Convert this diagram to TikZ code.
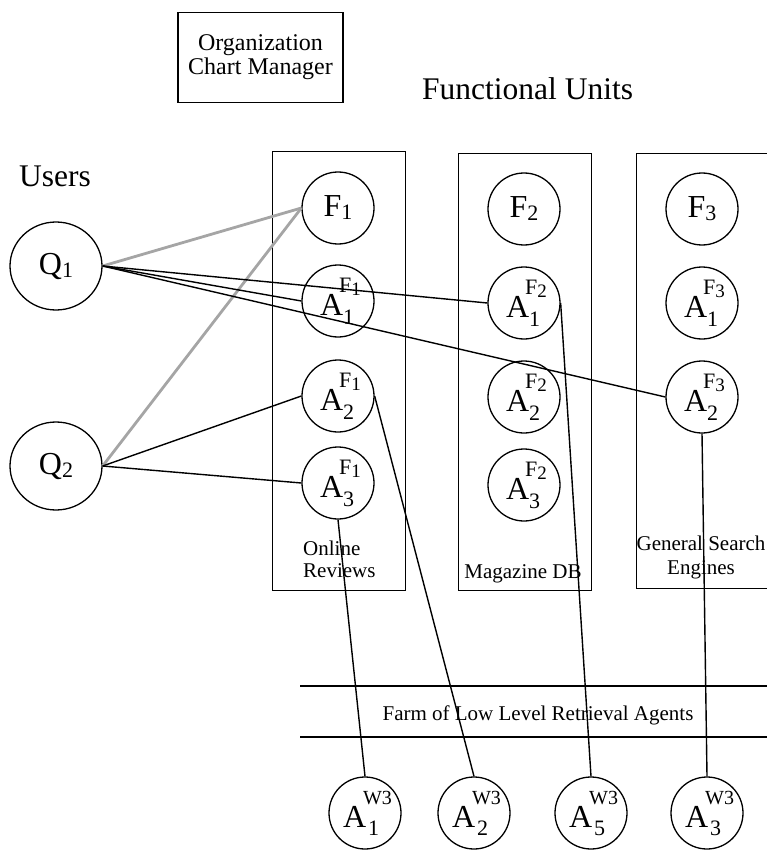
\documentclass[tikz,border=0pt]{standalone}
\usepackage{fontspec}
\setmainfont{Liberation Serif}
\usetikzlibrary{shapes.geometric}
\definecolor{gline}{RGB}{165,165,165}
\newcommand{\fs}[1]{\fontsize{#1}{#1}\selectfont}
\newcommand{\fsl}[2]{\fontsize{#1}{#2}\selectfont}
\newcommand{\FLab}[1]{F\raisebox{-3pt}{\fs{22}#1}}
\newcommand{\QLab}[1]{Q\raisebox{-3pt}{\fs{22}#1}}
\newcommand{\AFLab}[2]{\makebox[36pt][l]{A\rlap{\kern-4pt\raisebox{23pt}{\fs{22}F\raisebox{-3pt}{\fs{19}#1}}}\raisebox{-9pt}{\fs{22}#2}}}
\newcommand{\AWLab}[1]{\makebox[44pt][l]{A\rlap{\kern-3pt\raisebox{23pt}{\fs{20}W3}}\kern2pt\raisebox{-8pt}{\fs{22}#1}}}
\tikzset{
  unit/.style={circle, draw, line width=1.3pt, minimum size=72pt, inner sep=0pt, font=\fs{32}},
  user/.style={ellipse, draw, line width=1.3pt, minimum width=92pt, minimum height=88pt, inner sep=0pt, font=\fs{32}},
  fubox/.style={draw, line width=1.4pt, anchor=north west, inner sep=0pt},
  link/.style={line width=1.4pt},
  glink/.style={line width=2.8pt, draw=gline},
  lbl/.style={font=\fs{21}, inner sep=0pt},
  title/.style={font=\fs{31.5}, inner sep=0pt}
}
\begin{document}
\begin{tikzpicture}[x=1pt,y=-1pt]
\clip (0,0) rectangle (767,850);
% organization chart manager
\node[draw, line width=1.4pt, minimum width=165pt, minimum height=90pt, inner sep=0pt,
      align=center, font=\fsl{24}{24}] (ocm) at (260.5,57.5) {Organization\\Chart Manager};
\node[title, anchor=base west] (fu) at (422,100) {Functional Units};
\node[title, anchor=base west] (users) at (19,187) {Users};
% functional unit boxes
\node[fubox, minimum width=133pt, minimum height=439pt] (box1) at (272,151) {};
\node[fubox, minimum width=133pt, minimum height=437pt] (box2) at (458,153) {};
\node[fubox, minimum width=160pt, minimum height=435pt] (box3) at (636,153) {};
\node[lbl, anchor=north west, align=left, font=\fsl{21}{22}] (lab1) at (303,541) {Online\\Reviews};
\node[lbl, anchor=base] (lab2) at (523,578) {Magazine DB};
\node[lbl, anchor=north, align=center, font=\fsl{21}{24}] (lab3) at (701,536) {General Search\\Engines};
% users
\node[user] (q1) at (56,266) {\QLab{1}};
\node[user] (q2) at (56,466) {\QLab{2}};
% unit 1
\node[unit] (f1) at (338,208) {\FLab{1}};
\node[unit] (a11) at (338,301) {\AFLab{1}{1}};
\node[unit] (a21) at (338,396) {\AFLab{1}{2}};
\node[unit] (a31) at (338,483) {\AFLab{1}{3}};
% unit 2
\node[unit] (f2) at (524,209) {\FLab{2}};
\node[unit] (a12) at (524,303) {\AFLab{2}{1}};
\node[unit] (a22) at (524,397) {\AFLab{2}{2}};
\node[unit] (a32) at (524,485) {\AFLab{2}{3}};
% unit 3
\node[unit] (f3) at (702,209) {\FLab{3}};
\node[unit] (a13) at (702,303) {\AFLab{3}{1}};
\node[unit] (a23) at (702,397) {\AFLab{3}{2}};
% farm
\coordinate (farmtl) at (300,686);
\coordinate (farmtr) at (775,686);
\coordinate (farmbl) at (300,737);
\coordinate (farmbr) at (775,737);
\draw[link] (farmtl) -- (farmtr);
\draw[link] (farmbl) -- (farmbr);
\node[lbl, anchor=base] (farm) at (538,720) {Farm of Low Level Retrieval Agents};
% low level agents
\node[unit] (w1) at (365,813) {\AWLab{1}};
\node[unit] (w2) at (474,813) {\AWLab{2}};
\node[unit] (w5) at (591,813) {\AWLab{5}};
\node[unit] (w3) at (707,813) {\AWLab{3}};
% connectors
\draw[glink] (q1.east) -- (f1.west);
\draw[glink] (q2.east) -- (f1.west);
\draw[link] (q1.east) -- (a11.west);
\draw[link] (q1.east) -- (a12.west);
\draw[link] (q1.east) -- (a23.west);
\draw[link] (q2.east) -- (a21.west);
\draw[link] (q2.east) -- (a31.west);
\draw[link] (a31.south) -- (w1.north);
\draw[link] (a21.east) -- (w2.north);
\draw[link] (a12.east) -- (w5.north);
\draw[link] (a23.south) -- (w3.north);
\end{tikzpicture}
\end{document}
